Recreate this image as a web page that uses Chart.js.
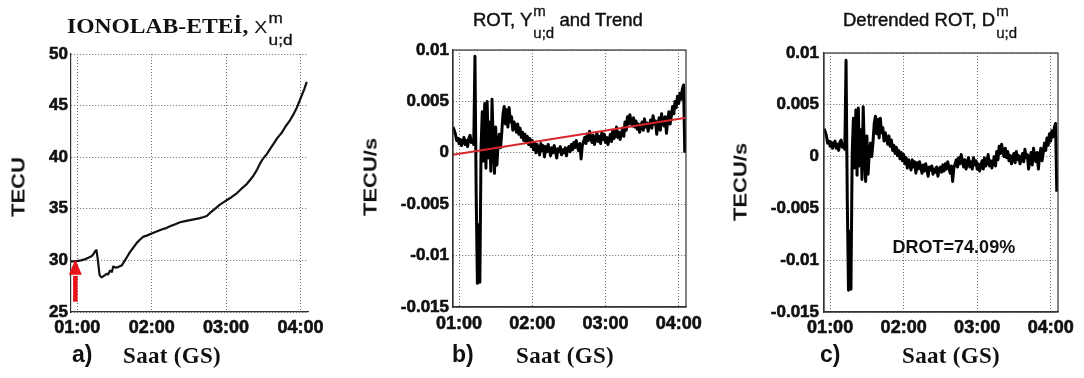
<!DOCTYPE html>
<html>
<head>
<meta charset="utf-8">
<script src="https://cdn.jsdelivr.net/npm/chart.js@4.4.1/dist/chart.umd.min.js"></script>
<style>
  body { margin: 0; background: #fff; }
  #page { position: relative; width: 1084px; height: 378px; overflow: hidden; color: #111;
          font-family: 'Liberation Sans', Arial, sans-serif; }
  canvas { position: absolute; top: 0; }
  .txt { position: absolute; white-space: nowrap; line-height: 1; }
  .ytitle { position: absolute; white-space: nowrap; line-height: 1; font: bold 18px 'Liberation Sans', Arial, sans-serif;
            transform: translate(-50%, -50%) rotate(-90deg) scaleX(1.22); }
  .panel { font-size: 23px; font-weight: bold; }
  .saat { font: bold 23px 'Liberation Serif', 'Times New Roman', serif; transform: translateX(-50%); letter-spacing: 0.3px; }
  .stitle { font-size: 18.5px; -webkit-text-stroke: 0.45px #111; }
  .ss { display: inline-block; position: relative; width: 22px; height: 1px; font: 15px 'Liberation Sans', Arial, sans-serif;
        -webkit-text-stroke: 0.3px #111; }
  .ss i { position: absolute; left: 1px; font-style: normal; line-height: 1; }
  .ss .up { top: -22px; }
  .ss .dn { top: 0px; }
</style>
</head>
<body>
<div id="page">
  <canvas id="chartA" width="330" height="378" style="left:0px"></canvas>
  <canvas id="chartB" width="360" height="378" style="left:360px"></canvas>
  <canvas id="chartC" width="354" height="378" style="left:730px"></canvas>

  <div class="txt" style="left:67px; top:15px; font: bold 20.5px 'Liberation Serif', 'Times New Roman', serif; transform: scaleX(1.15); transform-origin: 0 0;">IONOLAB-ETEİ, <span style="font: 17px 'Liberation Sans', Arial, sans-serif;">X</span><span class="ss"><i class="up">m</i><i class="dn">u;d</i></span></div>
  <div class="txt stitle" style="left:473px; top:11px;">ROT, Y<span class="ss"><i class="up">m</i><i class="dn">u;d</i></span> and Trend</div>
  <div class="txt stitle" style="left:843px; top:11px;">Detrended ROT, D<span class="ss"><i class="up">m</i><i class="dn">u;d</i></span></div>

  <div class="ytitle" style="left:19px; top:187px;">TECU</div>
  <div class="ytitle" style="left:371px; top:177px;">TECU/s</div>
  <div class="ytitle" style="left:741px; top:182px;">TECU/s</div>

  <div class="txt panel" style="left:72px; top:343px;">a)</div>
  <div class="txt panel" style="left:452px; top:343px;">b)</div>
  <div class="txt panel" style="left:820px; top:343px;">c)</div>
  <div class="txt saat" style="left:172px; top:343px;">Saat (GS)</div>
  <div class="txt saat" style="left:565px; top:343px;">Saat (GS)</div>
  <div class="txt saat" style="left:951px; top:343px;">Saat (GS)</div>
</div>
<script>
// time axis: minutes after 00:00 UT
const hourTicks = [60, 120, 180, 240];
const hourLabels = ['01:00', '02:00', '03:00', '04:00'];
const timeMin = 55;
const timeMax = 246;

const tecTicks = [25, 30, 35, 40, 45, 50];
const rotTicks = [-0.015, -0.01, -0.005, 0, 0.005, 0.01];

// a) IONOLAB-ETEI slant TEC
const tecMinutes = [55, 58, 60.7, 63, 66, 69, 71.5, 73, 74.5, 75.5,
  76.5, 78, 79.6, 81, 83.7, 85, 86.4, 88, 89, 91,
  93, 95.8, 98.5, 100.5, 102.5, 105, 108, 110.5, 113.3, 116,
  120, 124, 128, 131, 134.8, 139, 142.9, 147, 151, 155,
  159, 162, 164.4, 167, 171, 175, 180, 184, 188.6, 192,
  196.7, 202, 205, 207.4, 210, 212.8, 215.5, 218.2, 221.5, 225,
  228, 231.6, 234.5, 237, 239, 241, 243, 245];
const tecValues = [29.9, 29.9, 29.95, 30.0, 30.1, 30.25, 30.4, 30.6, 30.9, 31.0,
  30.2, 28.6, 28.35, 28.45, 28.7, 28.65, 29.0, 28.9, 29.4, 29.3,
  29.35, 29.5, 30.0, 30.4, 30.8, 31.2, 31.7, 32.0, 32.3, 32.4,
  32.6, 32.8, 33.0, 33.1, 33.3, 33.5, 33.7, 33.8, 33.9, 34.0,
  34.1, 34.2, 34.3, 34.6, 35.0, 35.4, 35.8, 36.1, 36.5, 36.9,
  37.4, 38.2, 38.8, 39.4, 39.9, 40.3, 40.8, 41.3, 41.9, 42.4,
  43.0, 43.6, 44.2, 44.8, 45.4, 46.0, 46.6, 47.3];

// red start marker (data units)
const arrowMinute = 58.5;
const arrowTail = 26.0;
const arrowHeadBase = 28.6;
const arrowTip = 30.1;

// b) ROT, one sample per minute from 00:55
const rotFirstMinute = 55;
const rotValues = [
  0.0025, 0.0022, 0.0018, 0.0012, 0.0014, 0.0009, 0.0013, 0.0007, 0.0011, 0.0015,
  0.0008, 0.0012, 0.0006, 0.0014, 0.0017, 0.0010, 0.0013, 0.0008, 0.0094, -0.0040,
  -0.0127, -0.0070, -0.0126, 0.0005, 0.0040, -0.0008, 0.0048, -0.0015, 0.0050, -0.0005,
  0.0030, -0.0018, 0.0052, 0.0008, -0.0020, 0.0025, -0.0012, 0.0010, 0.0018, 0.0005,
  0.0020, 0.0038, 0.0045, 0.0028, 0.0042, 0.0025, 0.0044, 0.0030, 0.0035, 0.0022,
  0.0030, 0.0026, 0.0020, 0.0028, 0.0018, 0.0024, 0.0015, 0.0020, 0.0012, 0.0018,
  0.0010, 0.0016, 0.0008, 0.0014, 0.0006, 0.0012, 0.0003, 0.0010, 0.0000, 0.0008,
  0.0004, -0.0002, 0.0009, 0.0002, 0.0007, -0.0004, 0.0006, 0.0001, 0.0008, 0.0003,
  -0.0003, 0.0005, 0.0000, 0.0007, 0.0002, -0.0005, 0.0004, 0.0001, 0.0006, -0.0002,
  0.0003, 0.0000, 0.0005, -0.0003, 0.0004, 0.0006, 0.0001, 0.0008, 0.0003, 0.0010,
  0.0005, 0.0012, 0.0006, 0.0002, 0.0009, -0.0006, 0.0007, 0.0011, 0.0015, 0.0009,
  0.0018, 0.0012, 0.0021, 0.0014, 0.0010, 0.0017, 0.0008, 0.0014, 0.0019, 0.0011,
  0.0016, 0.0009, 0.0020, 0.0013, 0.0018, 0.0010, 0.0015, 0.0008, 0.0013, 0.0018,
  0.0011, 0.0022, 0.0014, 0.0017, 0.0025, 0.0015, 0.0020, 0.0013, 0.0018, 0.0024,
  0.0016, 0.0030, 0.0022, 0.0035, 0.0028, 0.0037, 0.0030, 0.0026, 0.0034, 0.0025,
  0.0031, 0.0023, 0.0028, 0.0020, 0.0026, 0.0030, 0.0022, 0.0033, 0.0025, 0.0029,
  0.0021, 0.0027, 0.0032, 0.0024, 0.0036, 0.0028, 0.0031, 0.0018, 0.0027, 0.0034,
  0.0022, 0.0038, 0.0030, 0.0026, 0.0035, 0.0019, 0.0032, 0.0040, 0.0028, 0.0036,
  0.0045, 0.0038, 0.0050, 0.0044, 0.0055, 0.0048, 0.0058, 0.0052, 0.0062, 0.0066,
  0.0000];
const trendMinutes = [55, 246];
const trendValues = [-0.0002, 0.0034];

// c) detrended ROT, same sampling
const detrendedValues = [
  0.0027, 0.0024, 0.0020, 0.0013, 0.0015, 0.0010, 0.0014, 0.0008, 0.0012, 0.0015,
  0.0008, 0.0012, 0.0006, 0.0014, 0.0016, 0.0009, 0.0012, 0.0007, 0.0093, -0.0042,
  -0.0129, -0.0072, -0.0128, 0.0003, 0.0037, -0.0011, 0.0045, -0.0018, 0.0047, -0.0009,
  0.0026, -0.0022, 0.0048, 0.0004, -0.0024, 0.0020, -0.0017, 0.0005, 0.0013, 0.0000,
  0.0014, 0.0032, 0.0039, 0.0022, 0.0036, 0.0018, 0.0037, 0.0023, 0.0028, 0.0015,
  0.0023, 0.0018, 0.0012, 0.0020, 0.0010, 0.0016, 0.0006, 0.0011, 0.0003, 0.0009,
  0.0001, 0.0006, -0.0002, 0.0004, -0.0004, 0.0002, -0.0007, -0.0001, -0.0011, -0.0003,
  -0.0007, -0.0013, -0.0003, -0.0010, -0.0005, -0.0016, -0.0006, -0.0012, -0.0005, -0.0010,
  -0.0016, -0.0008, -0.0014, -0.0007, -0.0012, -0.0019, -0.0010, -0.0013, -0.0009, -0.0017,
  -0.0012, -0.0015, -0.0010, -0.0019, -0.0012, -0.0010, -0.0015, -0.0008, -0.0014, -0.0007,
  -0.0012, -0.0005, -0.0011, -0.0016, -0.0009, -0.0024, -0.0011, -0.0007, -0.0003, -0.0010,
  -0.0001, -0.0007, 0.0002, -0.0005, -0.0010, -0.0003, -0.0012, -0.0006, -0.0001, -0.0010,
  -0.0005, -0.0012, -0.0001, -0.0008, -0.0004, -0.0012, -0.0007, -0.0014, -0.0009, -0.0004,
  -0.0012, -0.0001, -0.0009, -0.0006, 0.0002, -0.0009, -0.0004, -0.0011, -0.0006, 0.0000,
  -0.0009, 0.0005, -0.0003, 0.0010, 0.0003, 0.0012, 0.0004, 0.0000, 0.0008, -0.0001,
  0.0005, -0.0004, 0.0001, -0.0007, -0.0001, 0.0003, -0.0006, 0.0005, -0.0003, 0.0001,
  -0.0007, -0.0002, 0.0003, -0.0005, 0.0007, -0.0001, 0.0002, -0.0012, -0.0003, 0.0004,
  -0.0008, 0.0008, -0.0001, -0.0005, 0.0004, -0.0012, 0.0001, 0.0008, -0.0004, 0.0004,
  0.0013, 0.0006, 0.0018, 0.0011, 0.0022, 0.0015, 0.0025, 0.0019, 0.0028, 0.0032,
  -0.0034];
const drotLabel = 'DROT=74.09%';
const drotAt = { x: 161, y: -0.0088 };

Chart.defaults.font.family = "'Liberation Sans', Arial, sans-serif";
Chart.defaults.font.weight = 700;
Chart.defaults.color = '#111';

const framePlugin = {
  id: 'frame',
  afterDraw(chart, args, opts) {
    if (!opts.show) return;
    const { ctx, chartArea: a } = chart;
    ctx.save();
    ctx.setLineDash([]);
    ctx.strokeStyle = '#333';
    ctx.lineWidth = 1.2;
    ctx.strokeRect(a.left, a.top, a.right - a.left, a.bottom - a.top);
    ctx.restore();
  }
};

const arrowPlugin = {
  id: 'startArrow',
  afterDatasetsDraw(chart) {
    const { ctx, scales: { x, y } } = chart;
    const px = x.getPixelForValue(arrowMinute);
    const tail = y.getPixelForValue(arrowTail);
    const base = y.getPixelForValue(arrowHeadBase);
    const tip = y.getPixelForValue(arrowTip);
    ctx.save();
    ctx.setLineDash([]);
    ctx.strokeStyle = '#e8121a';
    ctx.fillStyle = '#e8121a';
    ctx.lineWidth = 4.5;
    ctx.beginPath();
    ctx.moveTo(px, tail);
    ctx.lineTo(px, base + 1);
    ctx.stroke();
    ctx.beginPath();
    ctx.moveTo(px - 6.5, base);
    ctx.lineTo(px + 6.5, base);
    ctx.lineTo(px, tip);
    ctx.closePath();
    ctx.fill();
    ctx.restore();
  }
};

const drotPlugin = {
  id: 'drotText',
  afterDatasetsDraw(chart) {
    const { ctx, scales: { x, y } } = chart;
    ctx.save();
    ctx.font = "bold 18px 'Liberation Sans', Arial, sans-serif";
    ctx.fillStyle = '#111';
    ctx.textAlign = 'center';
    ctx.textBaseline = 'middle';
    ctx.fillText(drotLabel, x.getPixelForValue(drotAt.x), y.getPixelForValue(drotAt.y));
    ctx.restore();
  }
};

function panelOptions(p) {
  return {
    responsive: false,
    animation: false,
    events: [],
    layout: { padding: p.padding },
    plugins: {
      legend: { display: false },
      tooltip: { enabled: false },
      frame: { show: p.frame }
    },
    scales: {
      x: {
        type: 'linear',
        min: timeMin,
        max: timeMax,
        afterBuildTicks: function (scale) {
          scale.ticks = hourTicks.map(v => ({ value: v }));
        },
        afterFit: function (scale) { scale.height = 40; },
        ticks: {
          autoSkip: false,
          maxRotation: 0,
          padding: p.xPad,
          color: '#111',
          textStrokeColor: '#111',
          textStrokeWidth: 0.6,
          font: { size: 18, weight: 700 },
          callback: function (value) { return hourLabels[hourTicks.indexOf(value)]; }
        },
        grid: { color: '#6a6a6a', lineWidth: 1, drawTicks: false },
        border: { display: true, color: '#333', width: 1.2, dash: [1, 2] }
      },
      y: {
        type: 'linear',
        min: p.yTicks[0],
        max: p.yTicks[p.yTicks.length - 1],
        afterBuildTicks: function (scale) {
          scale.ticks = p.yTicks.map(v => ({ value: v }));
        },
        afterFit: function (scale) { scale.width = p.yWidth; },
        ticks: {
          autoSkip: false,
          padding: p.yPad,
          color: '#111',
          textStrokeColor: '#111',
          textStrokeWidth: 0.6,
          font: { size: 17, weight: 700 },
          callback: function (value) { return String(value); }
        },
        grid: { color: '#6a6a6a', lineWidth: 1, drawTicks: false },
        border: { display: true, color: '#333', width: 1.2, dash: [1, 2] }
      }
    }
  };
}

function lineSet(points, color, width) {
  return {
    data: points,
    borderColor: color,
    borderWidth: width,
    pointRadius: 0,
    tension: 0,
    fill: false,
    borderJoinStyle: 'round'
  };
}

const rotPoints = rotValues.map((v, i) => ({ x: rotFirstMinute + i, y: v }));
const detrendedPoints = detrendedValues.map((v, i) => ({ x: rotFirstMinute + i, y: v }));

new Chart(document.getElementById('chartA'), {
  type: 'line',
  data: {
    datasets: [lineSet(tecMinutes.map((m, i) => ({ x: m, y: tecValues[i] })), '#111', 2.2)]
  },
  options: panelOptions({
    padding: { left: 0, right: 22, top: 54, bottom: 26 },
    yWidth: 71, yPad: 3, xPad: 5, yTicks: tecTicks, frame: false
  }),
  plugins: [framePlugin, arrowPlugin]
});

new Chart(document.getElementById('chartB'), {
  type: 'line',
  data: {
    datasets: [
      lineSet(trendMinutes.map((m, i) => ({ x: m, y: trendValues[i] })), '#d8262a', 2),
      lineSet(rotPoints, '#000', 3)
    ]
  },
  options: panelOptions({
    padding: { left: 0, right: 34, top: 50, bottom: 31 },
    yWidth: 93, yPad: 4, xPad: 6, yTicks: rotTicks, frame: true
  }),
  plugins: [framePlugin]
});

new Chart(document.getElementById('chartC'), {
  type: 'line',
  data: {
    datasets: [lineSet(detrendedPoints, '#000', 3)]
  },
  options: panelOptions({
    padding: { left: 0, right: 26, top: 53, bottom: 26 },
    yWidth: 94, yPad: 5, xPad: 5, yTicks: rotTicks, frame: true
  }),
  plugins: [framePlugin, drotPlugin]
});
</script>
</body>
</html>
